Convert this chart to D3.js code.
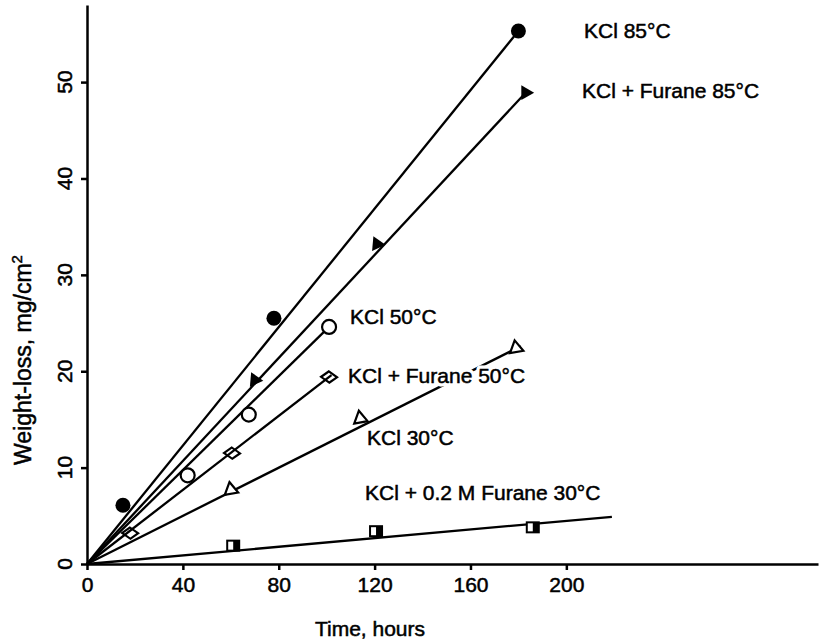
<!DOCTYPE html>
<html>
<head>
<meta charset="utf-8">
<script src="https://cdn.jsdelivr.net/npm/d3@7"></script>
<style>
  body { margin: 0; background: #fff; }
  svg { font-family: "Liberation Sans", Arial, Helvetica, sans-serif; }
  .axis path, .axis line { stroke: #000; stroke-width: 2.5; }
  .axis text, .ylab { font-size: 21px; fill: #000; stroke: #000; stroke-width: 0.5; }
  .fit { fill: none; stroke: #000; stroke-width: 2.3; }
  .halo { font-size: 21px; fill: #fff; stroke: #fff; stroke-width: 7; stroke-linejoin: round; }
  .label { font-size: 21px; fill: #000; stroke: #000; stroke-width: 0.5; }
  .title { font-size: 21px; fill: #000; stroke: #000; stroke-width: 0.5; }
</style>
</head>
<body>
<script>
//Global variables
const width = 819;
const height = 641;

//Data (hours, weight-loss mg/cm2)
const hoursKcl85 = [15, 78, 180];
const lossKcl85 = [6.1, 25.5, 55.3];
const hoursFur85 = [70, 121, 183];
const lossFur85 = [19.1, 33.2, 48.9];
const hoursKcl50 = [42, 67.5, 101];
const lossKcl50 = [9.2, 15.5, 24.6];
const hoursFur50 = [18, 60.5, 101];
const lossFur50 = [3.2, 11.5, 19.4];
const hoursKcl30 = [60, 114, 179];
const lossKcl30 = [7.7, 15.1, 22.4];
const hoursFur30 = [61, 120.6, 186];
const lossFur30 = [1.8, 3.3, 3.7];

//end point of each fitted line (all start at the origin)
const fitEndHours = [180, 183, 101, 102, 181, 219];
const fitEndLoss = [55.3, 48.9, 24.6, 19.6, 22.6, 4.9];

const seriesNames = ["KCl 85°C", "KCl + Furane 85°C", "KCl 50°C",
  "KCl + Furane 50°C", "KCl 30°C", "KCl + 0.2 M Furane 30°C"];

const xTicks = [0, 40, 80, 120, 160, 200];
const yTicks = [0, 10, 20, 30, 40, 50];

const series = [
  {hours: hoursKcl85, loss: lossKcl85, marker: "dot"},
  {hours: hoursFur85, loss: lossFur85, marker: "arrow"},
  {hours: hoursKcl50, loss: lossKcl50, marker: "circle"},
  {hours: hoursFur50, loss: lossFur50, marker: "diamond"},
  {hours: hoursKcl30, loss: lossKcl30, marker: "triangle"},
  {hours: hoursFur30, loss: lossFur30, marker: "halfsquare"}
];

//Scales
const xScale = d3.scaleLinear().domain([0, 305]).range([87, 818]);
const yScale = d3.scaleLinear().domain([0, 58]).range([564, 5]);

//SVG element
const svg = d3.select("body").append("svg")
  .attr("width", width)
  .attr("height", height);

//Fitted lines
const line = d3.line().x(d => xScale(d[0])).y(d => yScale(d[1]));
fitEndHours.forEach((h, i) => {
  svg.append("path")
    .datum([[0, 0], [h, fitEndLoss[i]]])
    .attr("class", "fit")
    .attr("d", line);
});

//Labels (white halo breaks the lines underneath, as in the original)
const labelPos = [[584, 38], [582, 98], [350, 324], [348, 383], [367, 445], [365, 500]];
seriesNames.forEach((name, i) => {
  svg.append("text")
    .attr("class", "halo")
    .attr("x", labelPos[i][0])
    .attr("y", labelPos[i][1])
    .text(name);
  svg.append("text")
    .attr("class", "label")
    .attr("x", labelPos[i][0])
    .attr("y", labelPos[i][1])
    .text(name);
});

//Markers
series.forEach(s => {
  s.hours.forEach((h, j) => {
    const g = svg.append("g")
      .attr("transform", `translate(${xScale(h)},${yScale(s.loss[j])})`);
    if (s.marker === "dot") {
      g.append("circle").attr("r", 7.5).attr("fill", "#000");
    } else if (s.marker === "circle") {
      g.append("circle").attr("r", 7).attr("fill", "#fff")
        .attr("stroke", "#000").attr("stroke-width", 2.2);
    } else if (s.marker === "arrow") {
      const rot = j === s.hours.length - 1 ? 90 : 215;
      g.append("path").attr("d", d3.symbol(d3.symbolTriangle, 95)())
        .attr("transform", `rotate(${rot})`).attr("fill", "#000");
    } else if (s.marker === "diamond") {
      g.append("path").attr("d", d3.symbol(d3.symbolSquare, 90)())
        .attr("transform", "rotate(-35) skewX(20)")
        .attr("fill", "none").attr("stroke", "#000").attr("stroke-width", 2.2);
    } else if (s.marker === "triangle") {
      g.append("path").attr("d", d3.symbol(d3.symbolTriangle, 80)())
        .attr("transform", "rotate(-10)")
        .attr("fill", "#fff").attr("stroke", "#000").attr("stroke-width", 2.2);
    } else {
      g.append("rect").attr("x", -6).attr("y", -6).attr("width", 12).attr("height", 10)
        .attr("fill", "#fff").attr("stroke", "#000").attr("stroke-width", 2);
      g.append("rect").attr("x", 0).attr("y", -6).attr("width", 6).attr("height", 10)
        .attr("fill", "#000");
    }
  });
});

//Axes
const bottomAxis = d3.axisBottom(xScale)
  .tickValues(xTicks)
  .tickSize(6)
  .tickSizeOuter(0)
  .tickPadding(7);

const leftAxis = d3.axisLeft(yScale)
  .tickValues(yTicks)
  .tickSize(6)
  .tickSizeOuter(0)
  .tickFormat("");

svg.append("g")
  .attr("class", "axis")
  .attr("transform", `translate(0,${yScale(0)})`)
  .call(bottomAxis)
  .attr("font-family", null)
  .attr("font-size", null);

svg.append("g")
  .attr("class", "axis")
  .attr("transform", `translate(${xScale(0)},0)`)
  .call(leftAxis);

//y tick labels read bottom-to-top
svg.selectAll(".ylab")
  .data(yTicks)
  .join("text")
  .attr("class", "ylab")
  .attr("text-anchor", "middle")
  .attr("transform", d => `translate(${xScale(0) - 15},${yScale(d)}) rotate(-90)`)
  .text(d => d);

//Axis titles
svg.append("text")
  .attr("class", "title")
  .attr("x", 370)
  .attr("y", 636)
  .attr("text-anchor", "middle")
  .text("Time, hours");

const yTitle = svg.append("text")
  .attr("class", "title")
  .attr("text-anchor", "middle")
  .style("font-size", "23px")
  .attr("transform", "translate(31,360) rotate(-90)");
yTitle.append("tspan").text("Weight-loss, mg/cm");
yTitle.append("tspan").attr("dy", -9).style("font-size", "15px").text("2");
</script>
</body>
</html>
